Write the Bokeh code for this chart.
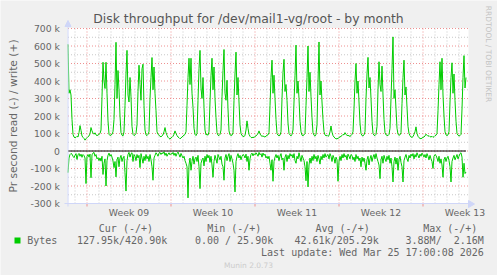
import numpy as np
from bokeh.plotting import figure
from bokeh.models import Label, Range1d
from bokeh.core.properties import value
from bokeh.embed import file_html
from bokeh.resources import INLINE

# ---------------- data (2-hour steps, values in kB/s) ----------------
write_k = [
    610, 330, 350, 320, 180, 95, 80, 75,
    78, 84, 80, 105, 145, 118, 86, 78, 72, 62, 70, 76,
    82, 86, 98, 134, 115, 102, 96, 104, 92, 88, 91, 95,
    100, 120, 310, 507, 400, 357, 507, 330, 172, 96, 88, 92,
    95, 110, 180, 380, 621, 300, 460, 350, 200, 105, 90, 86,
    110, 260, 440, 575, 320, 280, 420, 310, 140, 95, 88, 92,
    100, 150, 340, 490, 380, 290, 470, 496, 260, 120, 92, 88,
    95, 110, 300, 420, 534, 350, 480, 330, 230, 110, 95, 90,
    85, 80, 88, 92, 110, 134, 105, 90, 78, 72, 68, 75,
    78, 84, 96, 115, 100, 88, 80, 76, 70, 74, 80, 86,
    90, 95, 110, 260, 420, 530, 380, 530, 330, 250, 130, 95,
    88, 100, 290, 470, 575, 360, 300, 420, 250, 120, 92, 95,
    90, 110, 280, 430, 530, 350, 480, 300, 190, 105, 90, 88,
    95, 120, 310, 460, 580, 330, 290, 404, 240, 115, 92, 90,
    90, 105, 290, 440, 565, 320, 420, 280, 150, 100, 88, 85,
    82, 90, 120, 172, 130, 95, 84, 78, 75, 80, 76, 84,
    86, 92, 100, 115, 98, 88, 84, 86, 82, 80, 85, 90,
    92, 105, 260, 420, 519, 330, 433, 300, 180, 100, 90, 88,
    90, 110, 300, 450, 524, 340, 380, 290, 160, 100, 92, 86,
    95, 120, 280, 430, 605, 330, 400, 300, 170, 110, 90, 88,
    92, 100, 260, 420, 600, 340, 450, 310, 190, 105, 90, 85,
    95, 150, 390, 623, 320, 400, 280, 180, 110, 92, 86, 90,
    84, 88, 110, 143, 108, 88, 80, 74, 68, 72, 70, 78,
    80, 84, 88, 95, 92, 105, 96, 88, 90, 86, 84, 88,
    95, 110, 240, 400, 500, 330, 400, 280, 160, 100, 88, 86,
    92, 110, 300, 440, 535, 360, 420, 300, 170, 100, 90, 88,
    95, 140, 350, 510, 380, 340, 485, 320, 180, 105, 92, 90,
    88, 95, 130, 300, 470, 652, 300, 350, 240, 130, 95, 90,
    92, 105, 270, 420, 519, 320, 366, 250, 140, 100, 88, 80,
    78, 82, 95, 110, 138, 100, 84, 76, 72, 70, 74, 78,
    80, 86, 96, 90, 84, 88, 82, 80, 84, 78, 82, 88,
    90, 100, 230, 380, 510, 350, 530, 320, 200, 110, 92, 88,
    92, 110, 280, 420, 504, 330, 440, 290, 170, 100, 90, 86,
    88, 95, 240, 420, 545, 360, 420,
]
read_k = [
    124, 40, 20, 14, 18, 30, 38, 25,
    15, 48, 22, 14, 30, 18, 36, 20, 26, 40, 186, 30,
    20, 35, 18, 153, 22, 12, 8, 30, 20, 45, 38, 55,
    40, 58, 30, 134, 70, 45, 200, 55, 25, 12, 30, 20,
    35, 57, 95, 60, 148, 50, 35, 90, 40, 25, 60, 40,
    30, 124, 229, 55, 20, 8, 35, 15, 10, 60, 20, 30,
    55, 20, 40, 25, 95, 15, 40, 70, 30, 55, 20, 45,
    30, 60, 20, 50, 90, 167, 40, 25, 10, 18, 30, 12,
    8, 20, 10, 15, 5, 25, 12, 30, 18, 10, 22, 14,
    18, 8, 25, 12, 30, 15, 6, 20, 35, 14, 28, 40,
    30, 55, 70, 90, 268, 80, 40, 110, 60, 30, 75, 45,
    35, 60, 25, 90, 215, 70, 50, 40, 85, 30, 60, 20,
    40, 25, 65, 30, 80, 150, 60, 25, 45, 70, 20, 35,
    50, 30, 75, 90, 167, 40, 20, 55, 30, 15, 60, 25,
    45, 70, 110, 234, 60, 30, 15, 40, 25, 50, 30, 20,
    25, 40, 18, 60, 30, 110, 45, 20, 12, 28, 15, 22,
    10, 18, 30, 8, 22, 15, 35, 12, 25, 18, 40, 30,
    45, 30, 70, 110, 50, 173, 60, 35, 20, 40, 25, 55,
    30, 15, 50, 40, 110, 35, 20, 60, 25, 45, 15, 30,
    20, 40, 15, 55, 70, 30, 45, 10, 35, 60, 25, 40,
    55, 90, 170, 60, 205, 80, 40, 70, 30, 55, 20, 45,
    30, 60, 25, 45, 75, 30, 50, 20, 40, 15, 35, 25,
    20, 45, 15, 30, 60, 25, 40, 70, 35, 50, 173, 60,
    30, 55, 20, 40, 15, 35, 25, 50, 18, 30, 45, 20,
    25, 50, 35, 60, 20, 45, 30, 55, 40, 90, 35, 60,
    40, 70, 110, 50, 30, 80, 45, 25, 60, 35, 20, 45,
    15, 40, 60, 80, 158, 50, 30, 70, 25, 45, 60, 30,
    50, 25, 70, 40, 90, 177, 60, 35, 75, 40, 110, 50,
    30, 65, 90, 177, 55, 35, 20, 45, 60, 25, 40, 18,
    30, 15, 45, 20, 35, 10, 25, 40, 18, 30, 12, 22,
    35, 20, 40, 15, 30, 50, 25, 45, 60, 100, 30, 20,
    25, 40, 60, 30, 70, 45, 80, 150, 50, 35, 60, 40,
    30, 55, 90, 177, 60, 40, 25, 50, 35, 20, 45, 30,
    15, 10, 35, 150, 70, 129, 120,
]

y_ticks = [-300000, -200000, -100000, 0, 100000, 200000, 300000,
           400000, 500000, 600000, 700000]
y_tick_labels = ["-300 k", "-200 k", "-100 k", "0", "100 k", "200 k",
                 "300 k", "400 k", "500 k", "600 k", "700 k"]
week_labels = ["Week 09", "Week 10", "Week 11", "Week 12", "Week 13"]
steps_per_day = 12
first_week_index = 19          # index of the first week boundary
first_day_index = 7            # index of the first day boundary

legend_headers = ["Cur (-/+)", "Min (-/+)", "Avg (-/+)", "Max (-/+)"]
legend_values = ["127.95k/420.90k", "0.00 / 25.90k", "42.61k/205.29k", "3.88M/\u00a0 2.16M"]
series_name = "Bytes"

# ---------------- layout (whole canvas is the frame) ----------------
W, H = 497, 275
FL, FR, FT, FB = 67, 467, 28, 203      # data canvas in pixels
YMIN, YMAX = -300000, 700000
n_cols = FR - FL
YPP = (YMAX - YMIN) / (FB - FT)        # value per pixel
X0 = FL + 0.5                          # pixel of index 0 (pixel centre)
ZERO_PY = 150.5

def X(px):
    return px - X0

def Y(py):
    return (ZERO_PY - py) * YPP

TXT = "#666666"
AX = "#CFD6F8"
GREEN = "#00CC00"
MINOR = "#C8C8C8"
MAJOR = "#EE9090"

p = figure(width=W, height=H, x_range=Range1d(X(0), X(W)), y_range=Range1d(Y(H), Y(0)),
           x_axis_type=None, y_axis_type=None, toolbar_location=None,
           output_backend="svg", min_border=0,
           background_fill_color="#F0F0F0", border_fill_color="#F0F0F0",
           outline_line_color=None)

# white canvas
p.quad(left=[X(FL)], right=[X(FR + 1)], bottom=[YMIN - YPP * 0.5], top=[YMAX + YPP * 0.5],
       fill_color="white", line_color=None)

day_lines = [d for d in range(first_day_index, n_cols + 1, steps_per_day)
             if (d - first_week_index) % (steps_per_day * 7) != 0]
week_lines = list(range(first_week_index, n_cols + 1, steps_per_day * 7))
y_minor = [t + 50000 for t in y_ticks[:-1]]

def vlines(xs, color):
    p.multi_line(xs=[[x, x] for x in xs], ys=[[YMIN, YMAX]] * len(xs),
                 line_color=color, line_dash="1 2", line_width=1)

def hlines(ys, color):
    p.multi_line(xs=[[0, n_cols]] * len(ys), ys=[[y, y] for y in ys],
                 line_color=color, line_dash="1 2", line_width=1)

vlines(day_lines, MINOR)
hlines(y_minor, MINOR)
vlines(week_lines, MAJOR)
hlines(y_ticks, MAJOR)

# small tick marks below the x axis at week boundaries
p.segment(x0=week_lines, x1=week_lines, y0=[YMIN] * len(week_lines),
          y1=[YMIN - 3 * YPP] * len(week_lines), line_color=MAJOR, line_width=1)

idx = np.arange(len(write_k))
w = np.array(write_k, dtype=float) * 1000
r = -np.array(read_k, dtype=float) * 1000
p.line(idx, w, line_color=GREEN, line_width=1)
p.line(np.arange(len(read_k)), r, line_color=GREEN, line_width=1)
p.line(idx, np.zeros(len(idx)), line_color="black", line_width=1)

# axes with arrows
p.line([0, 0], [Y(206), Y(25)], line_color=AX, line_width=1)
p.line([X(64), X(469)], [YMIN, YMIN], line_color=AX, line_width=1)
p.patch([X(64.5), X(67.5), X(70.5)], [Y(26), Y(20), Y(26)], fill_color=AX, line_color=AX)
p.patch([X(468), X(474), X(468)], [Y(200), Y(203.5), Y(207)], fill_color=AX, line_color=AX)

# y tick labels
p.text(x=[X(59.5)] * len(y_ticks), y=y_ticks, text=y_tick_labels, text_align="right",
       text_baseline="middle", text_font=value("DejaVu Sans"),
       text_font_size="9.3px", text_color=TXT)

# x tick labels (centred in each week)
wk_pos = [first_week_index + steps_per_day * 7 * k + steps_per_day * 7 // 2
          for k in range(len(week_labels))]
p.text(x=wk_pos, y=[Y(212)] * len(wk_pos), text=week_labels, text_align="center",
       text_baseline="middle", text_font=value("DejaVu Sans"),
       text_font_size="9.3px", text_color=TXT)

# title
p.add_layout(Label(x=X(248), y=Y(18), text="Disk throughput for /dev/mail1-vg/root - by month",
                   text_align="center", text_baseline="middle", text_font="DejaVu Sans",
                   text_font_size="12.4px", text_color="#555555"))
# y axis label
p.add_layout(Label(x=X(13), y=Y(115.5), text="Pr second read (-) / write (+)",
                   angle=np.pi / 2, text_align="center", text_baseline="middle",
                   text_font="DejaVu Sans", text_font_size="10.7px", text_color=TXT))
# watermark
p.add_layout(Label(x=X(487.5), y=Y(53.5), text="RRDTOOL / TOBI OETIKER",
                   angle=-np.pi / 2, text_align="center", text_baseline="middle",
                   text_font="DejaVu Sans", text_font_size="7.5px", text_color="#C4C4C4"))

# legend
MONO = "DejaVu Sans Mono"
for hx, htxt in zip([98.3, 206.7, 315, 422.7], legend_headers):
    p.add_layout(Label(x=X(hx), y=Y(228), text=htxt, text_align="left", text_baseline="middle",
                       text_font=MONO, text_font_size="10px", text_color=TXT))
p.quad(left=[X(14)], right=[X(20)], bottom=[Y(243)], top=[Y(237)],
       fill_color=GREEN, line_color=None)
p.add_layout(Label(x=X(26.7), y=Y(240), text=series_name, text_align="left", text_baseline="middle",
                   text_font=MONO, text_font_size="10px", text_color=TXT))
for vx, vtxt in zip([166.7, 272.7, 378.3, 483.3], legend_values):
    p.add_layout(Label(x=X(vx), y=Y(240), text=vtxt, text_align="right", text_baseline="middle",
                       text_font=MONO, text_font_size="10px", text_color=TXT))
p.add_layout(Label(x=X(483.3), y=Y(251.5), text="Last update: Wed Mar 25 17:00:08 2026",
                   text_align="right", text_baseline="middle",
                   text_font=MONO, text_font_size="10px", text_color=TXT))
p.add_layout(Label(x=X(248), y=Y(264.5), text="Munin 2.0.73", text_align="center",
                   text_baseline="middle", text_font="DejaVu Sans", text_font_size="7.5px",
                   text_color="#CCCCCC"))

open("out.html", "w").write(file_html(p, INLINE))
